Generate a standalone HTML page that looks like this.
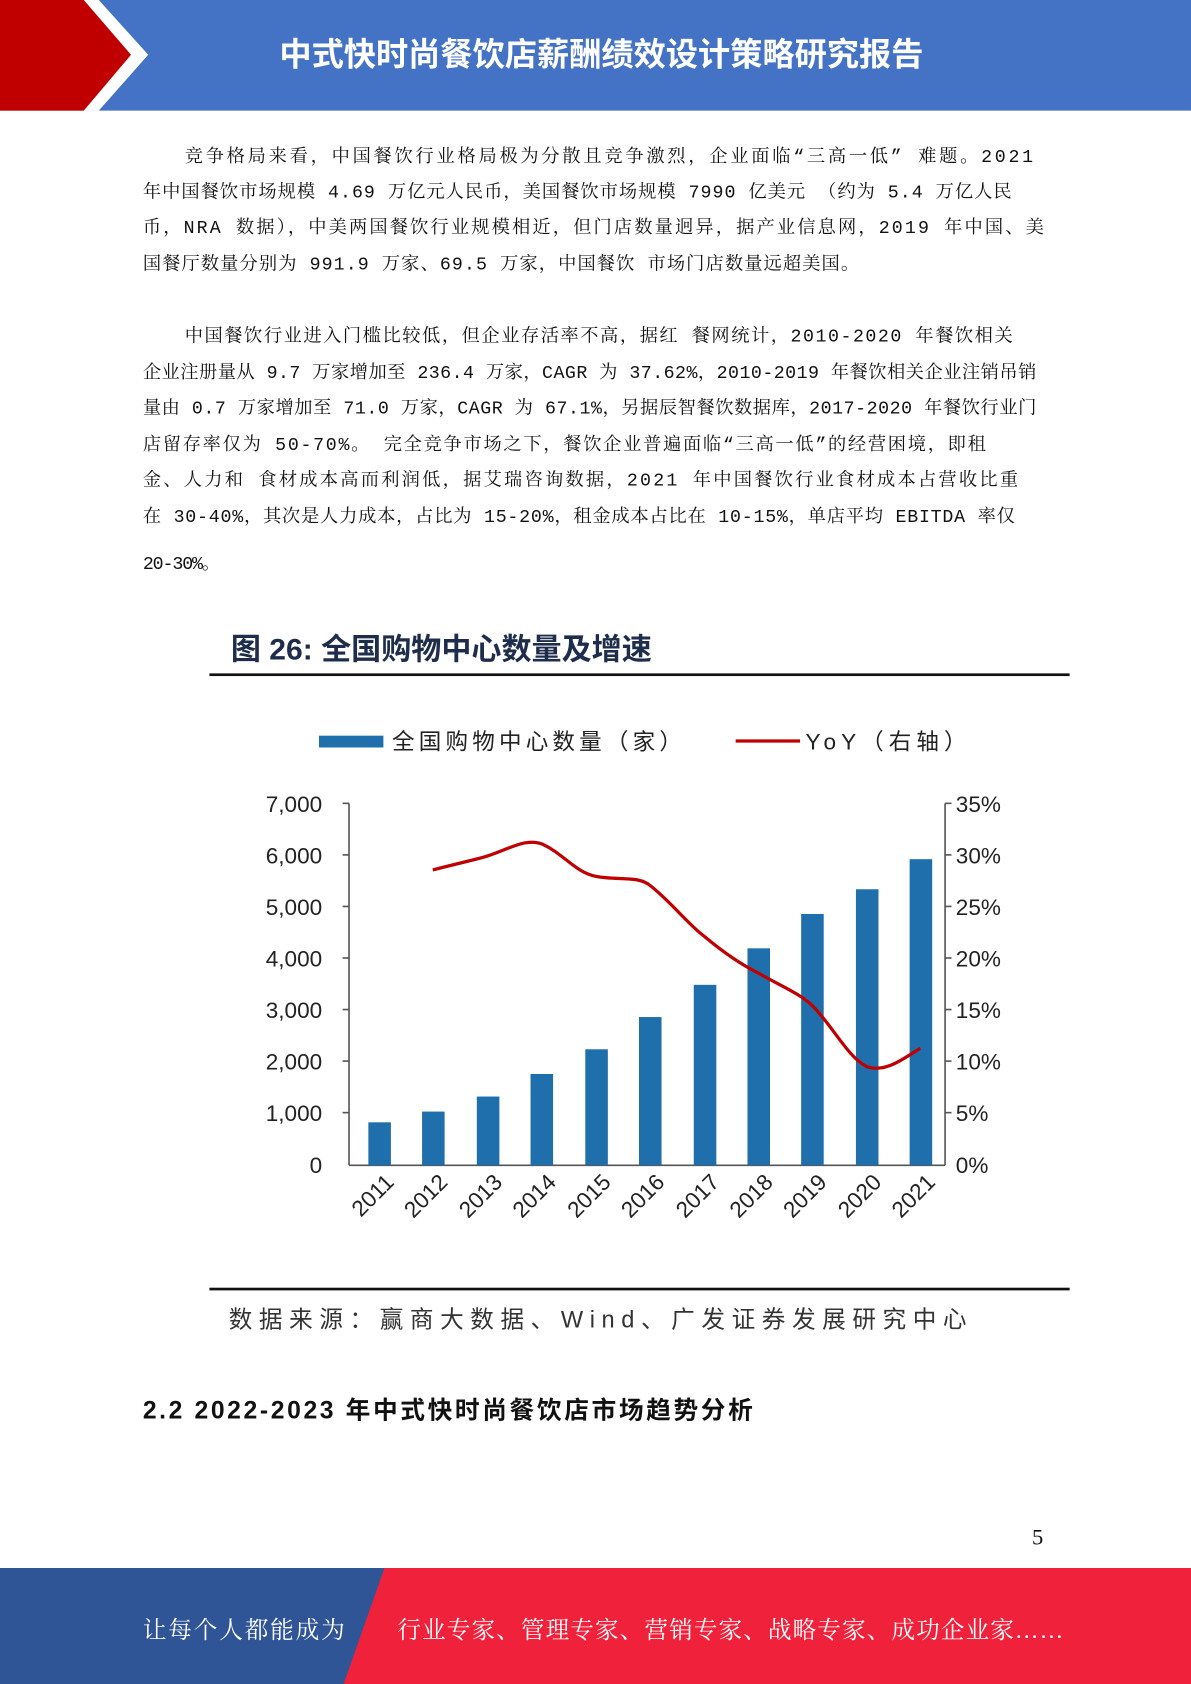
<!DOCTYPE html>
<html><head><meta charset="utf-8"><style>
html,body{margin:0;padding:0;background:#fff;}
svg{display:block;}
.p{font-family:"Liberation Mono","Noto Serif CJK SC",serif;font-size:17px;fill:#111;}
.a{font-family:"Liberation Sans","Noto Sans CJK SC",sans-serif;font-size:21px;fill:#222;}
</style></head><body>
<svg width="1191" height="1684" viewBox="0 0 1109 1568" preserveAspectRatio="none" xmlns="http://www.w3.org/2000/svg">
<rect x="0" y="0" width="1109" height="103" fill="#4472c4"/>
<polygon points="0,0 92,0 138,51 92,103 0,103" fill="#fff"/>
<polygon points="0,0 78,0 122,51 78,103 0,103" fill="#c00000"/>
<text x="560" y="61" text-anchor="middle" font-family="Liberation Sans,'Noto Sans CJK SC',sans-serif" font-size="30" font-weight="bold" fill="#fff">中式快时尚餐饮店薪酬绩效设计策略研究报告</text>
<g class="p" lengthAdjust="spacing">
<text x="172" y="151" textLength="790">竞争格局来看，中国餐饮行业格局极为分散且竞争激烈，企业面临“三高一低” 难题。2021</text>
<text x="133" y="184" textLength="809">年中国餐饮市场规模 4.69 万亿元人民币，美国餐饮市场规模 7990 亿美元 （约为 5.4 万亿人民</text>
<text x="133" y="217" textLength="839">币，NRA 数据），中美两国餐饮行业规模相近，但门店数量迥异，据产业信息网，2019 年中国、美</text>
<text x="133" y="251" textLength="667">国餐厅数量分别为 991.9 万家、69.5 万家，中国餐饮 市场门店数量远超美国。</text>
<text x="172" y="318" textLength="771">中国餐饮行业进入门槛比较低，但企业存活率不高，据红 餐网统计，2010-2020 年餐饮相关</text>
<text x="133" y="352" textLength="832">企业注册量从 9.7 万家增加至 236.4 万家，CAGR 为 37.62%，2010-2019 年餐饮相关企业注销吊销</text>
<text x="133" y="385" textLength="832">量由 0.7 万家增加至 71.0 万家，CAGR 为 67.1%，另据辰智餐饮数据库，2017-2020 年餐饮行业门</text>
<text x="133" y="419" textLength="785">店留存率仅为 50-70%。 完全竞争市场之下，餐饮企业普遍面临“三高一低”的经营困境，即租</text>
<text x="133" y="452" textLength="815">金、人力和 食材成本高而利润低，据艾瑞咨询数据，2021 年中国餐饮行业食材成本占营收比重</text>
<text x="133" y="486" textLength="812">在 30-40%，其次是人力成本，占比为 15-20%，租金成本占比在 10-15%，单店平均 EBITDA 率仅</text>
<text x="133" y="530" textLength="72">20-30%。</text>
</g>
<text x="215" y="614" font-family="Liberation Sans,'Noto Sans CJK SC',sans-serif" font-size="28" font-weight="bold" fill="#1f2d4d">图 26: 全国购物中心数量及增速</text>
<rect x="195" y="627" width="801" height="2.5" fill="#111"/>
<rect x="195" y="1199" width="801" height="2.5" fill="#111"/>
<text x="213" y="1236" font-family="Liberation Sans,'Noto Sans CJK SC',sans-serif" font-size="22" fill="#333" textLength="687" lengthAdjust="spacing">数据来源：赢商大数据、Wind、广发证券发展研究中心</text>
<rect x="297" y="685" width="60" height="11" fill="#1f6fad"/>
<text x="365" y="698" class="a" textLength="270" lengthAdjust="spacing">全国购物中心数量（家）</text>
<line x1="685" y1="690" x2="745" y2="690" stroke="#c00000" stroke-width="3"/>
<text x="750" y="698" class="a" textLength="150" lengthAdjust="spacing">YoY（右轴）</text>
<g stroke="#555" stroke-width="1.5">
<line x1="325" y1="748" x2="325" y2="1085"/>
<line x1="880" y1="748" x2="880" y2="1085"/>
<line x1="325" y1="1085" x2="880" y2="1085"/>
<line x1="319" y1="748" x2="325" y2="748"/><line x1="319" y1="796" x2="325" y2="796"/><line x1="319" y1="844" x2="325" y2="844"/><line x1="319" y1="892" x2="325" y2="892"/><line x1="319" y1="940" x2="325" y2="940"/><line x1="319" y1="988" x2="325" y2="988"/><line x1="319" y1="1036" x2="325" y2="1036"/>
<line x1="880" y1="748" x2="886" y2="748"/><line x1="880" y1="796" x2="886" y2="796"/><line x1="880" y1="844" x2="886" y2="844"/><line x1="880" y1="892" x2="886" y2="892"/><line x1="880" y1="940" x2="886" y2="940"/><line x1="880" y1="988" x2="886" y2="988"/><line x1="880" y1="1036" x2="886" y2="1036"/>
</g>
<g class="a" text-anchor="end">
<text x="300" y="756">7,000</text><text x="300" y="804">6,000</text><text x="300" y="852">5,000</text><text x="300" y="900">4,000</text><text x="300" y="948">3,000</text><text x="300" y="996">2,000</text><text x="300" y="1044">1,000</text><text x="300" y="1092">0</text>
</g>
<g class="a">
<text x="890" y="756">35%</text><text x="890" y="804">30%</text><text x="890" y="852">25%</text><text x="890" y="900">20%</text><text x="890" y="948">15%</text><text x="890" y="996">10%</text><text x="890" y="1044">5%</text><text x="890" y="1092">0%</text>
</g>
<g fill="#1f6fad">
<rect x="343" y="1045" width="21" height="40"/>
<rect x="393" y="1035" width="21" height="50"/>
<rect x="444" y="1021" width="21" height="64"/>
<rect x="494" y="1000" width="21" height="85"/>
<rect x="545" y="977" width="21" height="108"/>
<rect x="595" y="947" width="21" height="138"/>
<rect x="646" y="917" width="21" height="168"/>
<rect x="696" y="883" width="21" height="202"/>
<rect x="746" y="851" width="21" height="234"/>
<rect x="797" y="828" width="21" height="257"/>
<rect x="847" y="800" width="21" height="285"/>
</g>
<path d="M403,810 C430,803 445,800 454,797 C475,790 490,780 505,786 C525,795 535,812 555,816 C575,820 595,815 606,825 C625,840 640,860 656,872 C675,888 690,898 706,906 C725,917 745,925 757,937 C775,955 790,985 807,993 C825,1000 845,983 857,976" fill="none" stroke="#c00000" stroke-width="3"/>
<g class="a" text-anchor="end" font-size="22">
<text transform="translate(368,1102) rotate(-45)">2011</text>
<text transform="translate(418,1102) rotate(-45)">2012</text>
<text transform="translate(469,1102) rotate(-45)">2013</text>
<text transform="translate(519,1102) rotate(-45)">2014</text>
<text transform="translate(570,1102) rotate(-45)">2015</text>
<text transform="translate(620,1102) rotate(-45)">2016</text>
<text transform="translate(671,1102) rotate(-45)">2017</text>
<text transform="translate(721,1102) rotate(-45)">2018</text>
<text transform="translate(771,1102) rotate(-45)">2019</text>
<text transform="translate(822,1102) rotate(-45)">2020</text>
<text transform="translate(872,1102) rotate(-45)">2021</text>
</g>
<text x="133" y="1321" font-family="Liberation Sans,'Noto Sans CJK SC',sans-serif" font-size="23" font-weight="bold" fill="#111" textLength="568" lengthAdjust="spacing">2.2 2022-2023 年中式快时尚餐饮店市场趋势分析</text>
<text x="961" y="1438" font-family="Liberation Serif,serif" font-size="21" fill="#111">5</text>
<rect x="0" y="1460" width="1109" height="108" fill="#f0213a"/>
<polygon points="0,1460 358,1460 320,1568 0,1568" fill="#2f5597"/>
<text x="133" y="1525" font-family="Liberation Serif,'Noto Serif CJK SC',serif" font-size="22" fill="#fff" textLength="188" lengthAdjust="spacing">让每个人都能成为</text>
<text x="370" y="1525" font-family="Liberation Serif,'Noto Serif CJK SC',serif" font-size="22" fill="#fff" textLength="620" lengthAdjust="spacing">行业专家、管理专家、营销专家、战略专家、成功企业家……</text>
</svg>
</body></html>
